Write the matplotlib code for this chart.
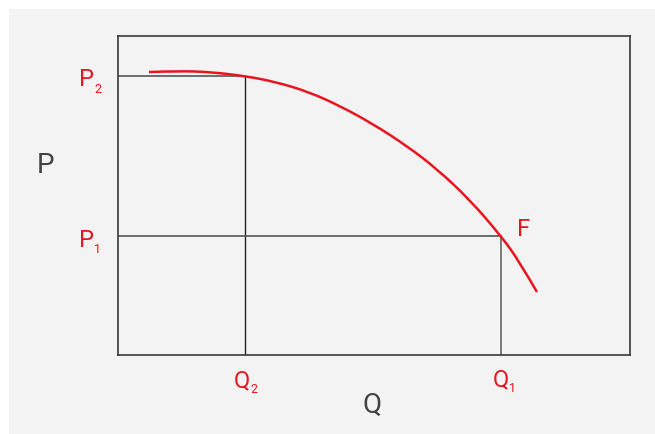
import matplotlib
matplotlib.use('Agg')
import matplotlib.pyplot as plt
from matplotlib.patches import Rectangle, PathPatch
from matplotlib.path import Path

# Curve F (arbitrary units)
curve_q = [31, 62, 92, 127, 158, 191, 222, 255, 289, 319, 352, 383, 401, 419]
curve_p = [283, 284, 283, 279, 273, 263, 249, 231, 209, 186, 155, 119, 94, 63]

# Marked points
q_points = {'Q2': 127, 'Q1': 383}
p_points = {'P2': 279, 'P1': 119}

RED = '#e8141e'
GREY_TXT = '#444444'
BG = '#f3f3f3'

W, H = 655, 435
plt.rcParams['font.family'] = ['Roboto', 'DejaVu Sans']

fig = plt.figure(figsize=(W / 100, H / 100), dpi=100)
fig.patch.set_facecolor('white')


def px(x, y):
    """Pixel position (top-left origin) to figure fraction."""
    return x / W, 1 - y / H


def smooth_path(xs, ys):
    """Quadratic B-spline style path: read points act as control points."""
    pts = list(zip(xs, ys))
    verts = [pts[0]]
    codes = [Path.MOVETO]
    for i in range(1, len(pts) - 1):
        mid = ((pts[i][0] + pts[i + 1][0]) / 2, (pts[i][1] + pts[i + 1][1]) / 2)
        if i == len(pts) - 2:
            mid = pts[-1]
        verts += [pts[i], mid]
        codes += [Path.CURVE3, Path.CURVE3]
    return Path(verts, codes)


# grey panel behind everything
fig.patches.append(Rectangle(px(9, 435), (W - 9) / W, (435 - 10) / H,
                             transform=fig.transFigure, facecolor=BG,
                             edgecolor='none', zorder=-5))

x0, y0 = px(118, 356)
x1, y1 = px(630, 37)
ax = fig.add_axes([x0, y0, x1 - x0, y1 - y0])
ax.set_zorder(2)
ax.set_facecolor(BG)
ax.set_xlim(0, 512)
ax.set_ylim(0, 319)
ax.set_xticks([])
ax.set_yticks([])
for s in ax.spines.values():
    s.set_color('#3a3a3a')
    s.set_linewidth(1.2)

# guide lines
q2, q1 = q_points['Q2'], q_points['Q1']
p2, p1 = p_points['P2'], p_points['P1']
ax.plot([0, q2], [p2, p2], color='#555555', lw=1.2)
ax.plot([q2, q2], [0, p2], color='#222222', lw=1.0)
ax.plot([0, q1], [p1, p1], color='#555555', lw=1.2)
ax.plot([q1, q1], [0, p1], color='#666666', lw=1.2)

ax.add_patch(PathPatch(smooth_path(curve_q, curve_p), facecolor='none',
                       edgecolor=RED, lw=1.8, capstyle='butt', zorder=3))


def label(x, y, main, sub, base_dy, sub_dx, color=RED):
    fig.text(*px(x, y), main, color=color, fontsize=17, va='baseline', ha='left')
    fig.text(*px(x + sub_dx, y + base_dy), sub, color=color, fontsize=9,
             va='baseline', ha='left')


label(79, 86, 'P', '2', 7, 15)
label(79, 247, 'P', '1', 6, 15)
label(234, 387, 'Q', '2', 6, 16)
label(493, 386, 'Q', '1', 6, 16)
fig.text(*px(517, 236), 'F', color=RED, fontsize=17, va='baseline', ha='left')

fig.text(*px(37, 173), 'P', color=GREY_TXT, fontsize=20, va='baseline', ha='left')
fig.text(*px(362, 413), 'Q', color=GREY_TXT, fontsize=20, va='baseline', ha='left')

fig.savefig('out.png', dpi=100)
